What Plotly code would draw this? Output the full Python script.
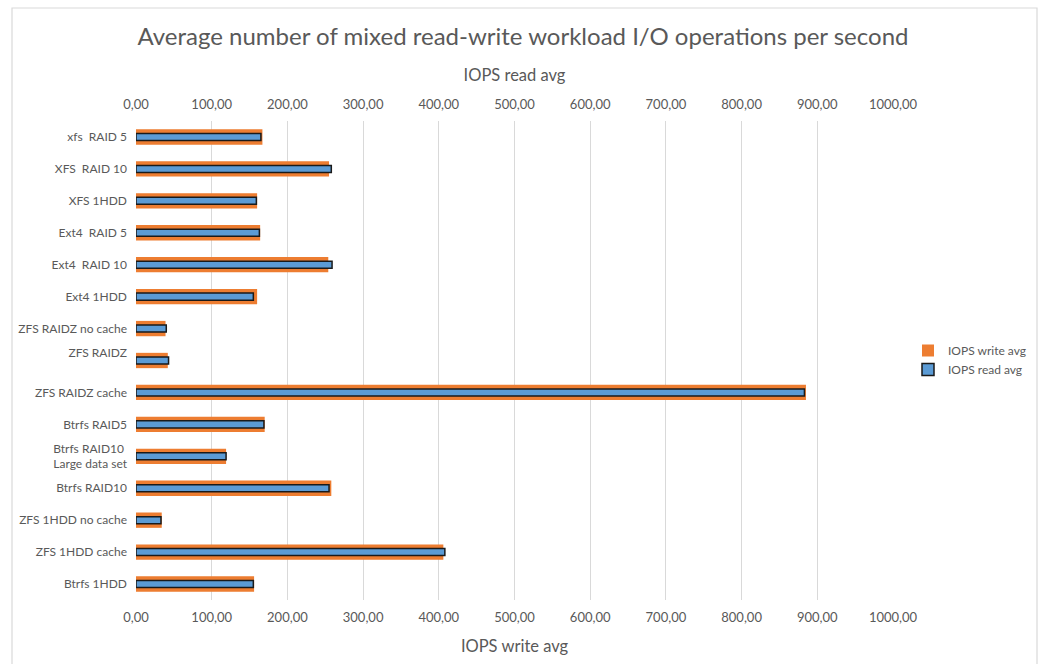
import plotly.graph_objects as go

# Storage configurations, listed top to bottom
configs = [
    "xfs  RAID 5",
    "XFS  RAID 10",
    "XFS 1HDD",
    "Ext4  RAID 5",
    "Ext4  RAID 10",
    "Ext4 1HDD",
    "ZFS RAIDZ no cache",
    "ZFS RAIDZ<br> ",
    "ZFS RAIDZ cache",
    "Btrfs RAID5",
    "Btrfs RAID10 <br>Large data set",
    "Btrfs RAID10",
    "ZFS 1HDD no cache",
    "ZFS 1HDD cache",
    "Btrfs 1HDD",
]

# Average IOPS per configuration
iops_write = [167, 255, 160, 164, 254, 160, 39, 42, 885, 170, 119, 258, 34, 406, 156]
iops_read = [165, 258, 159, 163, 259, 155, 40, 43, 883, 169, 119, 255, 33, 408, 155]

GRAY = "#595959"
FONT = "Lato"

fig = go.Figure()

fig.add_trace(go.Bar(
    name="IOPS write avg",
    y=configs, x=iops_write, orientation="h",
    xaxis="x", yaxis="y",
    width=0.48,
    marker=dict(color="#ED7D31", line=dict(width=0)),
))

fig.add_trace(go.Bar(
    name="IOPS read avg",
    y=configs, x=iops_read, orientation="h",
    xaxis="x2", yaxis="y",
    width=0.22,
    marker=dict(color="#5B9BD5", line=dict(color="#1a1a1a", width=1.5)),
))

axis_common = dict(
    range=[0, 1000],
    dtick=100,
    tick0=0,
    tickformat=".2f",
    tickfont=dict(size=13, color=GRAY, family=FONT),
    ticklabelstandoff=8,
    zeroline=False,
    showline=False,
    ticks="",
    automargin=False,
    fixedrange=True,
)

fig.update_layout(
    width=1046,
    height=664,
    separators=",.",
    font=dict(family=FONT, color=GRAY),
    paper_bgcolor="white",
    plot_bgcolor="white",
    margin=dict(l=136, r=153, t=121, b=64, autoexpand=False),
    title=dict(
        text="Average number of mixed read-write workload I/O operations per second",
        x=0.5, xref="container", xanchor="center",
        y=1 - 37 / 664, yref="container", yanchor="middle",
        font=dict(size=24, color=GRAY, family=FONT),
    ),
    xaxis=dict(
        **axis_common,
        side="bottom",
        showgrid=True,
        gridcolor="#d9d9d9",
        gridwidth=1,
        title=dict(text="IOPS write avg", font=dict(size=16.5, color=GRAY, family=FONT), standoff=16),
    ),
    xaxis2=dict(
        **axis_common,
        side="top",
        overlaying="x",
        showgrid=False,
        title=dict(text="IOPS read avg", font=dict(size=16.5, color=GRAY, family=FONT), standoff=10),
    ),
    yaxis=dict(
        autorange="reversed",
        type="category",
        showgrid=False,
        zeroline=False,
        showline=False,
        ticks="",
        ticklabelstandoff=8,
        automargin=False,
        tickfont=dict(size=12, color=GRAY, family=FONT),
        fixedrange=True,
    ),
    legend=dict(
        xref="container", yref="container",
        x=908 / 1046, y=1 - 360 / 664, xanchor="left", yanchor="middle",
        font=dict(size=12, color=GRAY, family=FONT),
        bgcolor="rgba(0,0,0,0)",
        traceorder="normal",
        itemwidth=30,
    ),
    showlegend=True,
    shapes=[
        dict(
            type="rect", xref="paper", yref="paper",
            x0=(12 - 136) / 757, x1=(1037 - 136) / 757,
            y0=(600 - 680) / 479, y1=(600 - 8) / 479,
            line=dict(color="#d9d9d9", width=1.2),
            fillcolor="rgba(0,0,0,0)",
            layer="below",
        )
    ],
)

fig.write_html("out.html")
